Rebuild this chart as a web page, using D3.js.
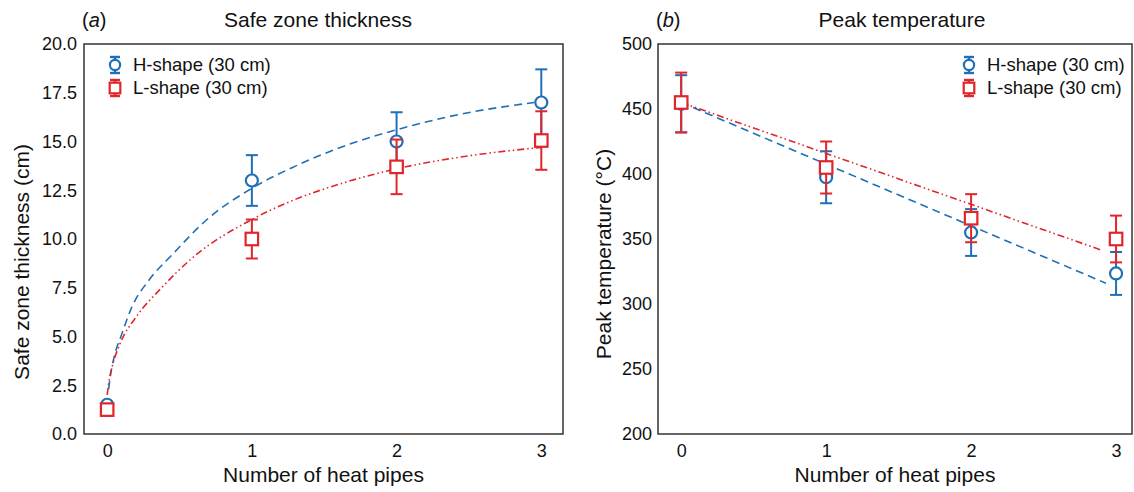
<!DOCTYPE html>
<html>
<head>
<meta charset="utf-8">
<script src="https://cdn.jsdelivr.net/npm/d3@7"></script>
<style>
  body { margin: 0; background: #fff; }
  svg { display: block; font-family: "Liberation Sans", Arial, sans-serif; }
</style>
</head>
<body>
<div id="chart"></div>
<script>
/* globals d3 */
const pipes = [0, 1, 2, 3];
const xTicks = [0, 1, 2, 3];
const seriesNames = ["H-shape (30 cm)", "L-shape (30 cm)"];

// (a) safe zone thickness (cm)
const safeH = [1.5, 13.0, 15.0, 17.0];
const safeHErr = [0, 1.3, 1.5, 1.7];
const safeL = [1.25, 10.0, 13.7, 15.05];
const safeLErr = [0, 1.0, 1.4, 1.5];
const safeTicks = [0, 2.5, 5, 7.5, 10, 12.5, 15, 17.5, 20];
// fitted curves
const safeFitHx = [0.01, 0.025, 0.05, 0.1, 0.17, 0.29, 0.45, 0.69, 1.0, 1.29, 1.65, 2.0, 2.44, 2.95];
const safeFitHy = [2.3, 3.1, 4.0, 5.1, 6.5, 7.9, 9.2, 11.0, 12.6, 13.7, 14.8, 15.6, 16.4, 17.0];
const safeFitLx = [0.0, 0.015, 0.04, 0.09, 0.2, 0.37, 0.6, 1.0, 1.29, 1.66, 2.0, 2.44, 3.0];
const safeFitLy = [2.0, 2.8, 3.6, 4.65, 6.0, 7.45, 9.1, 11.0, 12.0, 12.94, 13.6, 14.2, 14.7];

// (b) peak temperature (°C)
const tempH = [454, 397.5, 355, 323.5];
const tempHErr = [22, 20, 18, 16.5];
const tempL = [455, 405, 366, 350];
const tempLErr = [23, 20, 18.5, 18];
const tempTicks = [200, 250, 300, 350, 400, 450, 500];
const tempFitHx = [0, 2.93];
const tempFitHy = [455, 316];
const tempFitLx = [0, 2.91];
const tempFitLy = [455, 341];

const blue = "#1f6fb6";
const red = "#e0262b";
const width = 1134;
const height = 492;

const svg = d3
  .select("#chart")
  .append("svg")
  .attr("width", width)
  .attr("height", height);

svg.append("rect").attr("width", width).attr("height", height).attr("fill", "#fff");

function drawPanel(opt) {
  const x = d3.scaleLinear().domain(opt.xDomain).range([opt.left, opt.right]);
  const y = d3.scaleLinear().domain(opt.yDomain).range([opt.bottom, opt.top]);
  const g = svg.append("g");

  // y axis
  const yAxis = d3
    .axisLeft(y)
    .tickValues(opt.yTicks)
    .tickSize(0)
    .tickPadding(opt.yPad)
    .tickFormat(opt.yFormat);
  g.append("g")
    .attr("transform", `translate(${opt.left},0)`)
    .call(yAxis)
    .call((a) => a.select(".domain").remove())
    .selectAll("text")
    .attr("font-size", "18px")
    .attr("font-family", "Liberation Sans, Arial, sans-serif")
    .attr("fill", "#111");

  // x axis
  const xAxis = d3
    .axisBottom(x)
    .tickValues(xTicks)
    .tickSize(0)
    .tickPadding(10)
    .tickFormat(d3.format("d"));
  g.append("g")
    .attr("transform", `translate(0,${opt.bottom})`)
    .call(xAxis)
    .call((a) => a.select(".domain").remove())
    .selectAll("text")
    .attr("font-size", "18px")
    .attr("font-family", "Liberation Sans, Arial, sans-serif")
    .attr("fill", "#111");

  // fitted lines
  const line = d3
    .line()
    .curve(d3.curveMonotoneX)
    .x((d) => x(d[0]))
    .y((d) => y(d[1]));

  opt.fits.forEach(function (f) {
    g.append("path")
      .datum(d3.zip(f.xs, f.ys))
      .attr("fill", "none")
      .attr("stroke", f.color)
      .attr("stroke-width", 1.6)
      .attr("stroke-dasharray", f.dash)
      .attr("d", line);
  });

  // points with error bars
  opt.series.forEach(function (s) {
    const pts = pipes.map((p, i) => ({ x: p, v: s.values[i], e: s.errs[i] }));
    const eg = g.append("g").attr("stroke", s.color).attr("stroke-width", 2).attr("fill", "none");
    pts
      .filter((d) => d.e > 0)
      .forEach(function (d) {
        const cx = x(d.x);
        eg.append("line").attr("x1", cx).attr("x2", cx).attr("y1", y(d.v - d.e)).attr("y2", y(d.v + d.e));
        eg.append("line").attr("x1", cx - 6).attr("x2", cx + 6).attr("y1", y(d.v - d.e)).attr("y2", y(d.v - d.e));
        eg.append("line").attr("x1", cx - 6).attr("x2", cx + 6).attr("y1", y(d.v + d.e)).attr("y2", y(d.v + d.e));
      });
    pts.forEach(function (d) {
      marker(g, s.shape, x(d.x), y(d.v), s.color);
    });
  });

  // frame
  g.append("rect")
    .attr("x", opt.left)
    .attr("y", opt.top)
    .attr("width", opt.right - opt.left)
    .attr("height", opt.bottom - opt.top)
    .attr("fill", "none")
    .attr("stroke", "#333")
    .attr("stroke-width", 1.5);

  // legend
  opt.series.forEach(function (s, i) {
    const ly = opt.legendY + i * 23;
    const lg = g.append("g").attr("stroke", s.color).attr("stroke-width", 2.4);
    lg.append("line").attr("x1", opt.legendX).attr("x2", opt.legendX).attr("y1", ly - 8).attr("y2", ly + 8);
    lg.append("line").attr("x1", opt.legendX - 5).attr("x2", opt.legendX + 5).attr("y1", ly - 8).attr("y2", ly - 8);
    lg.append("line").attr("x1", opt.legendX - 5).attr("x2", opt.legendX + 5).attr("y1", ly + 8).attr("y2", ly + 8);
    marker(g, s.shape, opt.legendX, ly, s.color, 0.85);
    g.append("text")
      .attr("x", opt.legendX + 18)
      .attr("y", ly)
      .attr("dy", "0.35em")
      .attr("font-size", "18.5px")
      .attr("fill", "#111")
      .text(seriesNames[i]);
  });

  // title and panel letter
  const t = g.append("text").attr("x", opt.letterX).attr("y", 27).attr("font-size", "20px").attr("fill", "#111");
  t.append("tspan").text("(");
  t.append("tspan").attr("font-style", "italic").text(opt.letter);
  t.append("tspan").text(")");

  g.append("text")
    .attr("x", opt.titleX)
    .attr("y", 27)
    .attr("text-anchor", "middle")
    .attr("font-size", "21px")
    .attr("fill", "#111")
    .text(opt.title);

  // axis labels
  g.append("text")
    .attr("x", (opt.left + opt.right) / 2)
    .attr("y", 482)
    .attr("text-anchor", "middle")
    .attr("font-size", "21px")
    .attr("fill", "#111")
    .text("Number of heat pipes");

  g.append("text")
    .attr("transform", `translate(${opt.yLabelX},${opt.yLabelY}) rotate(-90)`)
    .attr("text-anchor", "middle")
    .attr("font-size", "21px")
    .attr("fill", "#111")
    .text(opt.yLabel);
}

function marker(g, shape, cx, cy, color, k) {
  k = k || 1;
  if (shape === "circle") {
    g.append("circle")
      .attr("cx", cx)
      .attr("cy", cy)
      .attr("r", 6 * k)
      .attr("fill", "#fff")
      .attr("stroke", color)
      .attr("stroke-width", 2.2);
  } else {
    const s = 12.5 * k;
    g.append("rect")
      .attr("x", cx - s / 2)
      .attr("y", cy - s / 2)
      .attr("width", s)
      .attr("height", s)
      .attr("fill", "#fff")
      .attr("stroke", color)
      .attr("stroke-width", 2.2);
  }
}

drawPanel({
  left: 84,
  right: 563,
  top: 44,
  bottom: 434,
  xDomain: [-0.16, 3.15],
  yDomain: [0, 20],
  yTicks: safeTicks,
  yFormat: d3.format(".1f"),
  yPad: 7,
  letter: "a",
  letterX: 82,
  title: "Safe zone thickness",
  titleX: 318,
  yLabel: "Safe zone thickness (cm)",
  yLabelX: 29,
  yLabelY: 262,
  legendX: 115,
  legendY: 65,
  fits: [
    { xs: safeFitHx, ys: safeFitHy, color: blue, dash: "8,5" },
    { xs: safeFitLx, ys: safeFitLy, color: red, dash: "7,3,1.5,3,1.5,3" },
  ],
  series: [
    { values: safeH, errs: safeHErr, color: blue, shape: "circle" },
    { values: safeL, errs: safeLErr, color: red, shape: "square" },
  ],
});

drawPanel({
  left: 658,
  right: 1132,
  top: 44,
  bottom: 434,
  xDomain: [-0.16, 3.11],
  yDomain: [200, 500],
  yTicks: tempTicks,
  yFormat: d3.format("d"),
  yPad: 6,
  letter: "b",
  letterX: 656,
  title: "Peak temperature",
  titleX: 902,
  yLabel: "Peak temperature (°C)",
  yLabelX: 611,
  yLabelY: 254,
  legendX: 969,
  legendY: 65,
  fits: [
    { xs: tempFitHx, ys: tempFitHy, color: blue, dash: "8,5" },
    { xs: tempFitLx, ys: tempFitLy, color: red, dash: "7,3,1.5,3,1.5,3" },
  ],
  series: [
    { values: tempH, errs: tempHErr, color: blue, shape: "circle" },
    { values: tempL, errs: tempLErr, color: red, shape: "square" },
  ],
});
</script>
</body>
</html>
